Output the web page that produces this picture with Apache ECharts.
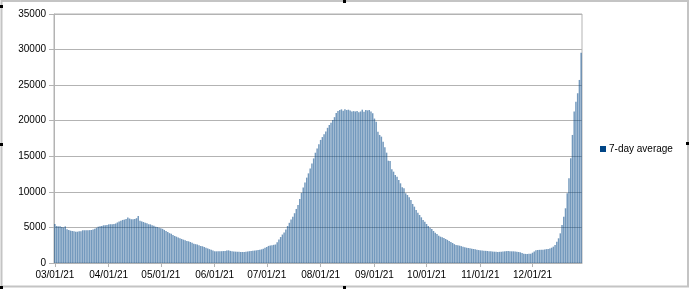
<!DOCTYPE html>
<html>
<head>
<meta charset="utf-8">
<script src="https://cdn.jsdelivr.net/npm/echarts@6/dist/echarts.min.js"></script>
<style>
html,body{margin:0;padding:0;background:#fff;}
#chart{width:690px;height:289px;}
</style>
</head>
<body>
<div id="chart"></div>
<script>
// Month structure of the category axis (Mar 1 .. Dec 29, 2021)
var monthNumbers = [3, 4, 5, 6, 7, 8, 9, 10, 11, 12];
var monthLengths = [31, 30, 31, 30, 31, 31, 30, 31, 30, 29];

// 7-day average values, one per day, grouped by month
var marValues = [5480, 5200, 5150, 5150, 5050, 5000, 5150, 4730, 4650, 4550, 4500, 4450, 4400, 4400, 4450, 4450, 4600, 4600, 4600, 4600, 4620, 4640, 4700, 4830, 4950, 5100, 5150, 5200, 5300, 5300, 5350];
var aprValues = [5430, 5450, 5450, 5480, 5550, 5700, 5850, 5950, 6050, 6100, 6200, 6380, 6250, 6150, 6150, 6200, 6300, 6610, 5950, 5850, 5760, 5650, 5570, 5450, 5430, 5300, 5250, 5100, 5050, 4950];
var mayValues = [4900, 4800, 4650, 4500, 4350, 4200, 4100, 3950, 3800, 3700, 3600, 3470, 3380, 3280, 3200, 3100, 3050, 2950, 2850, 2700, 2650, 2600, 2500, 2400, 2350, 2250, 2150, 2050, 1950, 1850, 1750];
var junValues = [1650, 1640, 1640, 1650, 1660, 1680, 1700, 1750, 1780, 1700, 1640, 1620, 1600, 1590, 1570, 1550, 1550, 1560, 1590, 1620, 1660, 1690, 1720, 1750, 1780, 1820, 1880, 1920, 2000, 2150];
var julValues = [2250, 2400, 2450, 2500, 2550, 2600, 2900, 3300, 3650, 4000, 4300, 4700, 5200, 5650, 6100, 6500, 7000, 7600, 8150, 9000, 9850, 10600, 11300, 12000, 12600, 13300, 14000, 14700, 15500, 16100, 16700];
var augValues = [17300, 17700, 18100, 18500, 19000, 19400, 19700, 20100, 20500, 21100, 21350, 21500, 21600, 21400, 21600, 21500, 21550, 21450, 21300, 21350, 21300, 21350, 21200, 21300, 21550, 21250, 21500, 21450, 21500, 21300, 21050];
var sepValues = [20300, 19870, 18460, 18000, 17760, 17060, 16270, 15510, 14380, 14330, 13170, 12840, 12370, 12140, 11670, 11200, 10640, 10500, 9800, 9560, 9230, 8860, 8300, 7920, 7450, 7070, 6750, 6420, 6050, 5810];
var octValues = [5480, 5200, 4960, 4780, 4500, 4260, 4080, 3840, 3700, 3610, 3520, 3370, 3250, 3090, 2950, 2810, 2650, 2530, 2480, 2440, 2370, 2300, 2220, 2150, 2100, 2060, 2010, 1970, 1920, 1870, 1820];
var novValues = [1780, 1750, 1730, 1710, 1690, 1660, 1640, 1610, 1590, 1570, 1550, 1570, 1590, 1620, 1640, 1670, 1690, 1660, 1640, 1640, 1620, 1590, 1550, 1500, 1400, 1310, 1280, 1270, 1290, 1310];
var decValues = [1450, 1600, 1780, 1830, 1850, 1870, 1870, 1900, 1950, 1980, 2050, 2150, 2300, 2530, 3000, 3470, 4170, 5340, 6510, 7690, 9800, 11900, 14720, 18000, 21280, 22680, 23860, 25730, 29570];

var seriesName = '7-day average';
var yTicks = [0, 5000, 10000, 15000, 20000, 25000, 30000, 35000];

function pad(n) { return (n < 10 ? '0' : '') + n; }
var categories = [];
for (var m = 0; m < monthNumbers.length; m++) {
  for (var d = 1; d <= monthLengths[m]; d++) {
    categories.push(pad(monthNumbers[m]) + '/' + pad(d) + '/21');
  }
}
var values = [].concat(marValues, aprValues, mayValues, junValues, julValues,
  augValues, sepValues, octValues, novValues, decValues);

function isMonthStart(idx, val) {
  return categories[idx].substr(3, 2) === '01';
}

var chart = echarts.init(document.getElementById('chart'), null, {renderer: 'canvas'});
var font = 'Liberation Sans';
chart.setOption({
  animation: false,
  backgroundColor: '#ffffff',
  grid: {
    left: 54, right: 108, top: 14, bottom: 26,
    show: true, borderColor: '#b3b3b3', borderWidth: 1, backgroundColor: 'transparent'
  },
  legend: {
    show: true,
    left: 595, top: 139,
    orient: 'vertical',
    itemWidth: 6, itemHeight: 6,
    itemGap: 4,
    icon: 'rect',
    data: [{name: seriesName, itemStyle: {color: '#004586', opacity: 1}}],
    textStyle: {fontFamily: font, fontSize: 10, color: '#000000', padding: [0, 0, 0, -2]}
  },
  xAxis: {
    type: 'category',
    data: categories,
    boundaryGap: true,
    axisLine: {show: true, lineStyle: {color: '#b3b3b3', width: 1}},
    axisTick: {show: true, interval: isMonthStart, alignWithLabel: true, length: 4, lineStyle: {color: '#b3b3b3'}},
    axisLabel: {show: true, interval: isMonthStart, margin: 7, fontFamily: font, fontSize: 10, color: '#000000'},
    splitLine: {show: false}
  },
  yAxis: {
    type: 'value',
    min: yTicks[0], max: yTicks[yTicks.length - 1], interval: 5000,
    axisLine: {show: true, lineStyle: {color: '#b3b3b3', width: 1}},
    axisTick: {show: true, length: 5, lineStyle: {color: '#b3b3b3'}},
    axisLabel: {margin: 8, fontFamily: font, fontSize: 10, color: '#000000',
      formatter: function (v) { return String(v); }},
    splitLine: {show: true, lineStyle: {color: '#b3b3b3', width: 1}}
  },
  series: [{
    name: seriesName,
    type: 'bar',
    data: values,
    barCategoryGap: '15%',
    itemStyle: {color: '#004586', opacity: 0.55},
    emphasis: {disabled: true}
  }],
  graphic: [
    {type: 'rect', silent: true, z: 100, shape: {x: 1.5, y: 1, width: 686.5, height: 285.5},
      style: {fill: 'none', stroke: '#c4c4c4', lineWidth: 2}},
    {type: 'rect', silent: true, z: 101, shape: {x: 0, y: 5, width: 3, height: 3}, style: {fill: '#000'}},
    {type: 'rect', silent: true, z: 101, shape: {x: 343, y: 0, width: 3, height: 3}, style: {fill: '#000'}},
    {type: 'rect', silent: true, z: 101, shape: {x: 0, y: 143, width: 3, height: 3}, style: {fill: '#000'}},
    {type: 'rect', silent: true, z: 101, shape: {x: 686, y: 142, width: 3, height: 3}, style: {fill: '#000'}},
    {type: 'rect', silent: true, z: 101, shape: {x: 343, y: 286, width: 3, height: 3}, style: {fill: '#000'}},
    {type: 'rect', silent: true, z: 101, shape: {x: 0, y: 286, width: 3, height: 3}, style: {fill: '#000'}}
  ]
});
</script>
</body>
</html>
